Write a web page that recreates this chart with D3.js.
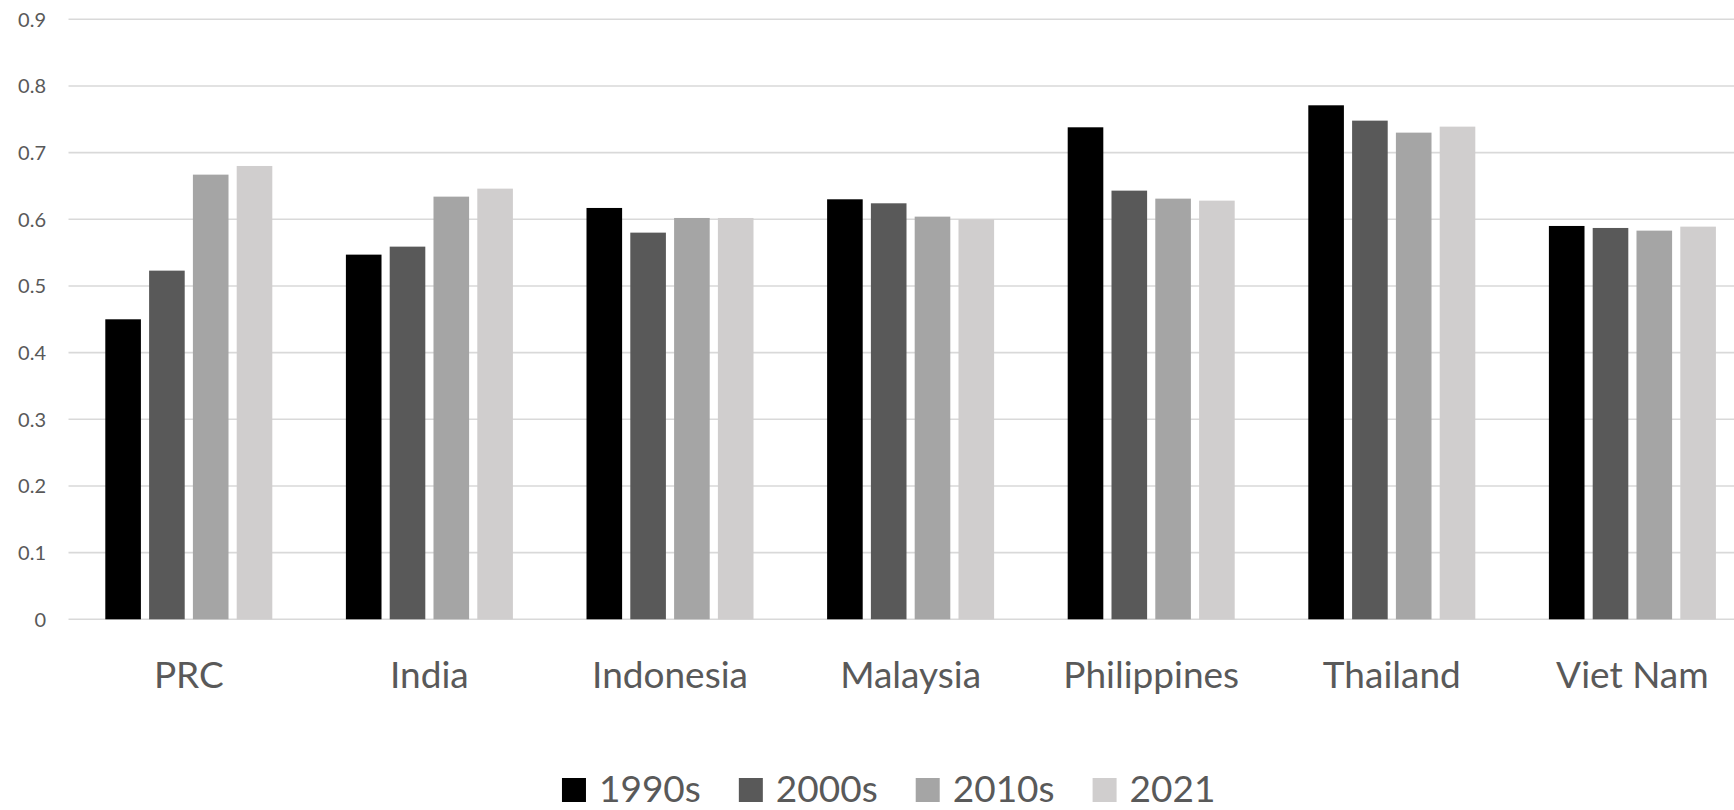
<!DOCTYPE html>
<html>
<head>
<meta charset="utf-8">
<script src="https://cdn.jsdelivr.net/npm/d3@7"></script>
<style>
  html, body { margin: 0; padding: 0; background: #ffffff; }
  svg { display: block; }
  text { font-family: Lato, "Open Sans", sans-serif; fill: #595959; }
</style>
</head>
<body>
<svg id="chart" width="1734" height="810"></svg>
<script>
const categories = ["PRC", "India", "Indonesia", "Malaysia", "Philippines", "Thailand", "Viet Nam"];
const seriesNames = ["1990s", "2000s", "2010s", "2021"];
const values1990s = [0.450, 0.547, 0.617, 0.630, 0.738, 0.771, 0.590];
const values2000s = [0.523, 0.559, 0.580, 0.624, 0.643, 0.748, 0.587];
const values2010s = [0.667, 0.634, 0.602, 0.604, 0.631, 0.730, 0.583];
const values2021  = [0.680, 0.646, 0.602, 0.600, 0.628, 0.739, 0.589];
const yTicks = [0, 0.1, 0.2, 0.3, 0.4, 0.5, 0.6, 0.7, 0.8, 0.9];
const colors = ["#000000", "#595959", "#A5A5A5", "#D0CECE"];

const seriesValues = [values1990s, values2000s, values2010s, values2021];

const svg = d3.select("#chart");
const W = 1734;

const y = d3.scaleLinear().domain([0, 0.9]).range([619.3, 19.3]);
const x0 = d3.scaleBand().domain(categories).range([68.5, 1752.7]).padding(0);
const groupW = 167;
const bw = x0.bandwidth();
const x1 = d3.scaleBand().domain(seriesNames)
  .range([(bw - groupW) / 2, (bw + groupW) / 2])
  .paddingInner(0.187).paddingOuter(0);

// gridlines
const grid = svg.append("g");
grid.selectAll("line").data(yTicks).join("line")
  .attr("x1", 68.5).attr("x2", W + 20)
  .attr("y1", d => y(d)).attr("y2", d => y(d))
  .attr("stroke", "#D9D9D9").attr("stroke-width", 1.6);

// y axis labels
const yAxis = d3.axisLeft(y).tickValues(yTicks).tickSize(0).tickPadding(0)
  .tickFormat(d => d === 0 ? "0" : d3.format(".1f")(d));
const yg = svg.append("g").attr("transform", "translate(46,0)").call(yAxis);
yg.select(".domain").remove();
yg.selectAll("text").attr("font-size", 20).attr("font-family", "Lato, sans-serif")
  .attr("fill", "#595959").attr("dy", "0.34em");

// bars
const groups = svg.append("g").selectAll("g").data(categories).join("g")
  .attr("transform", d => `translate(${x0(d)},0)`);
groups.selectAll("rect")
  .data((c, ci) => seriesNames.map((s, si) => ({ s, si, v: seriesValues[si][ci] })))
  .join("rect")
  .attr("x", d => x1(d.s))
  .attr("width", x1.bandwidth())
  .attr("y", d => y(d.v))
  .attr("height", d => y(0) - y(d.v))
  .attr("fill", d => colors[d.si]);

// category labels
const xAxis = d3.axisBottom(x0).tickSize(0).tickPadding(0);
const xg = svg.append("g").attr("transform", "translate(0,688)").call(xAxis);
xg.select(".domain").remove();
xg.selectAll("text").attr("font-size", 37).attr("font-family", "Lato, sans-serif")
  .attr("fill", "#595959").attr("dy", 0);

// legend
const legend = svg.append("g");
const items = legend.selectAll("g").data(seriesNames).join("g");
items.append("rect").attr("width", 24).attr("height", 24).attr("y", 778)
  .attr("fill", (d, i) => colors[i]);
items.append("text").attr("x", 37).attr("y", 802).attr("font-size", 37)
  .text(d => d);
let widths = [];
items.each(function () { widths.push(this.getBBox().width); });
const gap = 38;
const total = d3.sum(widths) + gap * (widths.length - 1);
let cx = 888.7 - total / 2;
items.each(function (d, i) {
  d3.select(this).attr("transform", `translate(${cx},0)`);
  cx += widths[i] + gap;
});
</script>
</body>
</html>
